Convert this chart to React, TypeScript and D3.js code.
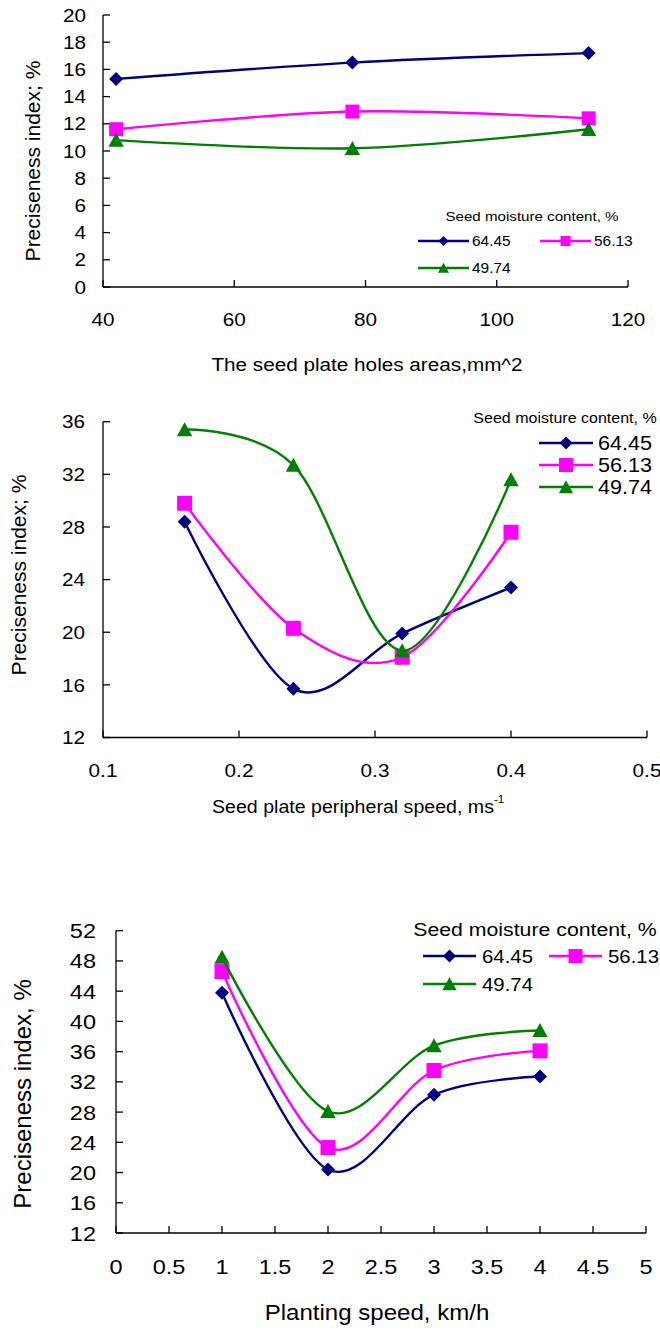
import React from "react";
import * as d3 from "d3";

// ---------- data ----------
const SERIES_NAMES = ["64.45", "56.13", "49.74"];
const SERIES_COLORS = ["#000080", "#FF00FF", "#008000"];
const SERIES_MARKERS = ["diamond", "square", "triangle"];
const LEGEND_TITLE = "Seed moisture content, %";

const HOLES_AREAS = [42, 78, 114];
const HOLES_S64 = [15.3, 16.5, 17.2];
const HOLES_S56 = [11.6, 12.9, 12.4];
const HOLES_S49 = [10.8, 10.2, 11.6];
const HOLES_XTICKS = [40, 60, 80, 100, 120];
const HOLES_YTICKS = [0, 2, 4, 6, 8, 10, 12, 14, 16, 18, 20];

const PERIPH_SPEED = [0.16, 0.24, 0.32, 0.4];
const PERIPH_S64 = [28.4, 15.7, 19.9, 23.4];
const PERIPH_S56 = [29.8, 20.3, 18.1, 27.6];
const PERIPH_S49 = [35.4, 32.7, 18.6, 31.6];
const PERIPH_XTICKS = [0.1, 0.2, 0.3, 0.4, 0.5];
const PERIPH_YTICKS = [12, 16, 20, 24, 28, 32, 36];

const PLANT_SPEED = [1, 2, 3, 4];
const PLANT_S64 = [43.8, 20.4, 30.3, 32.7];
const PLANT_S56 = [46.6, 23.3, 33.5, 36.1];
const PLANT_S49 = [48.5, 28.1, 36.8, 38.8];
const PLANT_XTICKS = [0, 0.5, 1, 1.5, 2, 2.5, 3, 3.5, 4, 4.5, 5];
const PLANT_YTICKS = [12, 16, 20, 24, 28, 32, 36, 40, 44, 48, 52];

const FONT = "Arial, 'Liberation Sans', Helvetica, sans-serif";
const SX = 1.12; // horizontal stretch of the reference's text

function Txt({ x, y, size, anchor = "start", children }: any) {
  return (
    <text
      transform={`translate(${x},${y}) scale(${SX},1)`}
      fontSize={size}
      fontFamily={FONT}
      textAnchor={anchor}
      fill="#000"
    >
      {children}
    </text>
  );
}

function Marker({ type, x, y, color, s }: any) {
  if (type === "diamond") {
    const h = s;
    return <path d={`M${x},${y - h}L${x + h},${y}L${x},${y + h}L${x - h},${y}Z`} fill={color} />;
  }
  if (type === "square") {
    return <rect x={x - s} y={y - s} width={2 * s} height={2 * s} fill={color} />;
  }
  const w = s * 1.1;
  return (
    <path d={`M${x},${y - s * 1.05}L${x + w},${y + s * 0.95}L${x - w},${y + s * 0.95}Z`} fill={color} />
  );
}

function Panel({ cfg }: any) {
  const x = d3.scaleLinear().domain(cfg.xDomain).range(cfg.xRange);
  const y = d3.scaleLinear().domain(cfg.yDomain).range(cfg.yRange);
  const line = d3
    .line<[number, number]>()
    .x((d) => x(d[0]))
    .y((d) => y(d[1]))
    .curve(d3.curveCardinal.tension(0));
  const x0 = cfg.xRange[0];
  const x1 = cfg.xRange[1];
  const y0 = cfg.yRange[0];
  const y1 = cfg.yRange[1];
  const lg = cfg.legend;
  return (
    <g>
      {/* axes */}
      <line x1={x0} x2={x0} y1={y1} y2={y0} stroke="#000" strokeWidth={1.3} />
      <line x1={x0} x2={x1} y1={y0} y2={y0} stroke="#000" strokeWidth={1.3} />
      {cfg.yTicks.map((t: number) => (
        <g key={"y" + t}>
          <line x1={x0} x2={x0 + 7} y1={y(t)} y2={y(t)} stroke="#000" strokeWidth={1.3} />
          <Txt x={cfg.yLabelX} y={y(t) + cfg.tickSize * 0.36} size={cfg.tickSize} anchor="end">
            {t}
          </Txt>
        </g>
      ))}
      {cfg.xTicks.map((t: number) => (
        <g key={"x" + t}>
          <line x1={x(t)} x2={x(t)} y1={y0} y2={y0 - 7} stroke="#000" strokeWidth={1.3} />
          <Txt x={x(t)} y={cfg.xLabelY} size={cfg.tickSize} anchor="middle">
            {t}
          </Txt>
        </g>
      ))}
      {/* titles */}
      <text
        transform={`translate(${cfg.yTitleX},${cfg.yTitleY}) rotate(-90)`}
        fontSize={cfg.yTitleSize}
        fontFamily={FONT}
        textAnchor="middle"
      >
        {cfg.yTitle}
      </text>
      <Txt x={cfg.xTitleX} y={cfg.xTitleY} size={cfg.xTitleSize} anchor={cfg.xTitleAnchor}>
        {cfg.xTitle}
        {cfg.xTitleSup ? (
          <tspan fontSize={cfg.xTitleSize * 0.6} dy={-cfg.xTitleSize * 0.55}>
            {cfg.xTitleSup}
          </tspan>
        ) : null}
      </Txt>
      {/* series */}
      {cfg.series.map((vals: number[], i: number) => {
        const pts = cfg.xs.map((xv: number, j: number) => [xv, vals[j]] as [number, number]);
        return (
          <g key={"s" + i}>
            <path d={line(pts) || ""} fill="none" stroke={SERIES_COLORS[i]} strokeWidth={2.4} />
            {pts.map((p: [number, number], j: number) => (
              <Marker
                key={j}
                type={SERIES_MARKERS[i]}
                x={x(p[0])}
                y={y(p[1])}
                color={SERIES_COLORS[i]}
                s={cfg.markerSize[i]}
              />
            ))}
          </g>
        );
      })}
      {/* legend */}
      <Txt x={lg.titleX} y={lg.titleY} size={lg.titleSize} anchor="middle">
        {LEGEND_TITLE}
      </Txt>
      {SERIES_NAMES.map((name, i) => {
        const it = lg.items[i];
        return (
          <g key={"l" + i}>
            <line
              x1={it[0]}
              x2={it[0] + lg.lineLen}
              y1={it[1]}
              y2={it[1]}
              stroke={SERIES_COLORS[i]}
              strokeWidth={2.4}
            />
            <Marker
              type={SERIES_MARKERS[i]}
              x={it[0] + lg.lineLen / 2}
              y={it[1]}
              color={SERIES_COLORS[i]}
              s={lg.markerSize[i]}
            />
            <Txt x={it[0] + lg.textOffset} y={it[1] + lg.itemSize * 0.36} size={lg.itemSize}>
              {name}
            </Txt>
          </g>
        );
      })}
    </g>
  );
}

const PANELS = [
  {
    xs: HOLES_AREAS,
    series: [HOLES_S64, HOLES_S56, HOLES_S49],
    xDomain: [40, 120],
    xRange: [103, 628],
    yDomain: [0, 20],
    yRange: [287, 15],
    xTicks: HOLES_XTICKS,
    yTicks: HOLES_YTICKS,
    tickSize: 18.5,
    yLabelX: 86,
    xLabelY: 326,
    yTitle: "Preciseness index; %",
    yTitleX: 40,
    yTitleY: 161,
    yTitleSize: 21,
    xTitle: "The seed plate holes areas,mm^2",
    xTitleX: 367,
    xTitleY: 371,
    xTitleSize: 18.5,
    xTitleAnchor: "middle",
    markerSize: [7, 7, 7],
    legend: {
      titleX: 532,
      titleY: 221,
      titleSize: 13.5,
      itemSize: 13.8,
      lineLen: 51,
      textOffset: 54,
      markerSize: [5, 5, 5],
      items: [
        [418, 241],
        [540, 241],
        [418, 268],
      ],
    },
  },
  {
    xs: PERIPH_SPEED,
    series: [PERIPH_S64, PERIPH_S56, PERIPH_S49],
    xDomain: [0.1, 0.5],
    xRange: [103, 647],
    yDomain: [12, 36],
    yRange: [737.5, 421.7],
    xTicks: PERIPH_XTICKS,
    yTicks: PERIPH_YTICKS,
    tickSize: 18.5,
    yLabelX: 85,
    xLabelY: 777,
    yTitle: "Preciseness index; %",
    yTitleX: 26,
    yTitleY: 575,
    yTitleSize: 21,
    xTitle: "Seed plate peripheral speed, ms",
    xTitleSup: "-1",
    xTitleX: 212,
    xTitleY: 813,
    xTitleSize: 17.5,
    xTitleAnchor: "start",
    markerSize: [7, 7.5, 7],
    legend: {
      titleX: 565,
      titleY: 423,
      titleSize: 14.3,
      itemSize: 19.3,
      lineLen: 54,
      textOffset: 59,
      markerSize: [6.5, 7, 6.5],
      items: [
        [539, 443],
        [539, 465],
        [539, 487],
      ],
    },
  },
  {
    xs: PLANT_SPEED,
    series: [PLANT_S64, PLANT_S56, PLANT_S49],
    xDomain: [0, 5],
    xRange: [116, 646],
    yDomain: [12, 52],
    yRange: [1233, 930.7],
    xTicks: PLANT_XTICKS,
    yTicks: PLANT_YTICKS,
    tickSize: 21,
    yLabelX: 96,
    xLabelY: 1274,
    yTitle: "Preciseness index, %",
    yTitleX: 31,
    yTitleY: 1094,
    yTitleSize: 24,
    xTitle: "Planting speed, km/h",
    xTitleX: 377,
    xTitleY: 1320,
    xTitleSize: 21.5,
    xTitleAnchor: "middle",
    markerSize: [7, 7.5, 7],
    legend: {
      titleX: 535,
      titleY: 936,
      titleSize: 19,
      itemSize: 18.2,
      lineLen: 53,
      textOffset: 59,
      markerSize: [6.5, 7, 6.5],
      items: [
        [423, 956],
        [549, 956],
        [423, 984],
      ],
    },
  },
];

export default function App() {
  return (
    <svg
      width={660}
      height={1331}
      style={{ position: "absolute", left: 0, top: 0, display: "block", background: "#fff" }}
    >
      <rect width={660} height={1331} fill="#fff" />
      {PANELS.map((p, i) => (
        <Panel key={i} cfg={p} />
      ))}
    </svg>
  );
}
